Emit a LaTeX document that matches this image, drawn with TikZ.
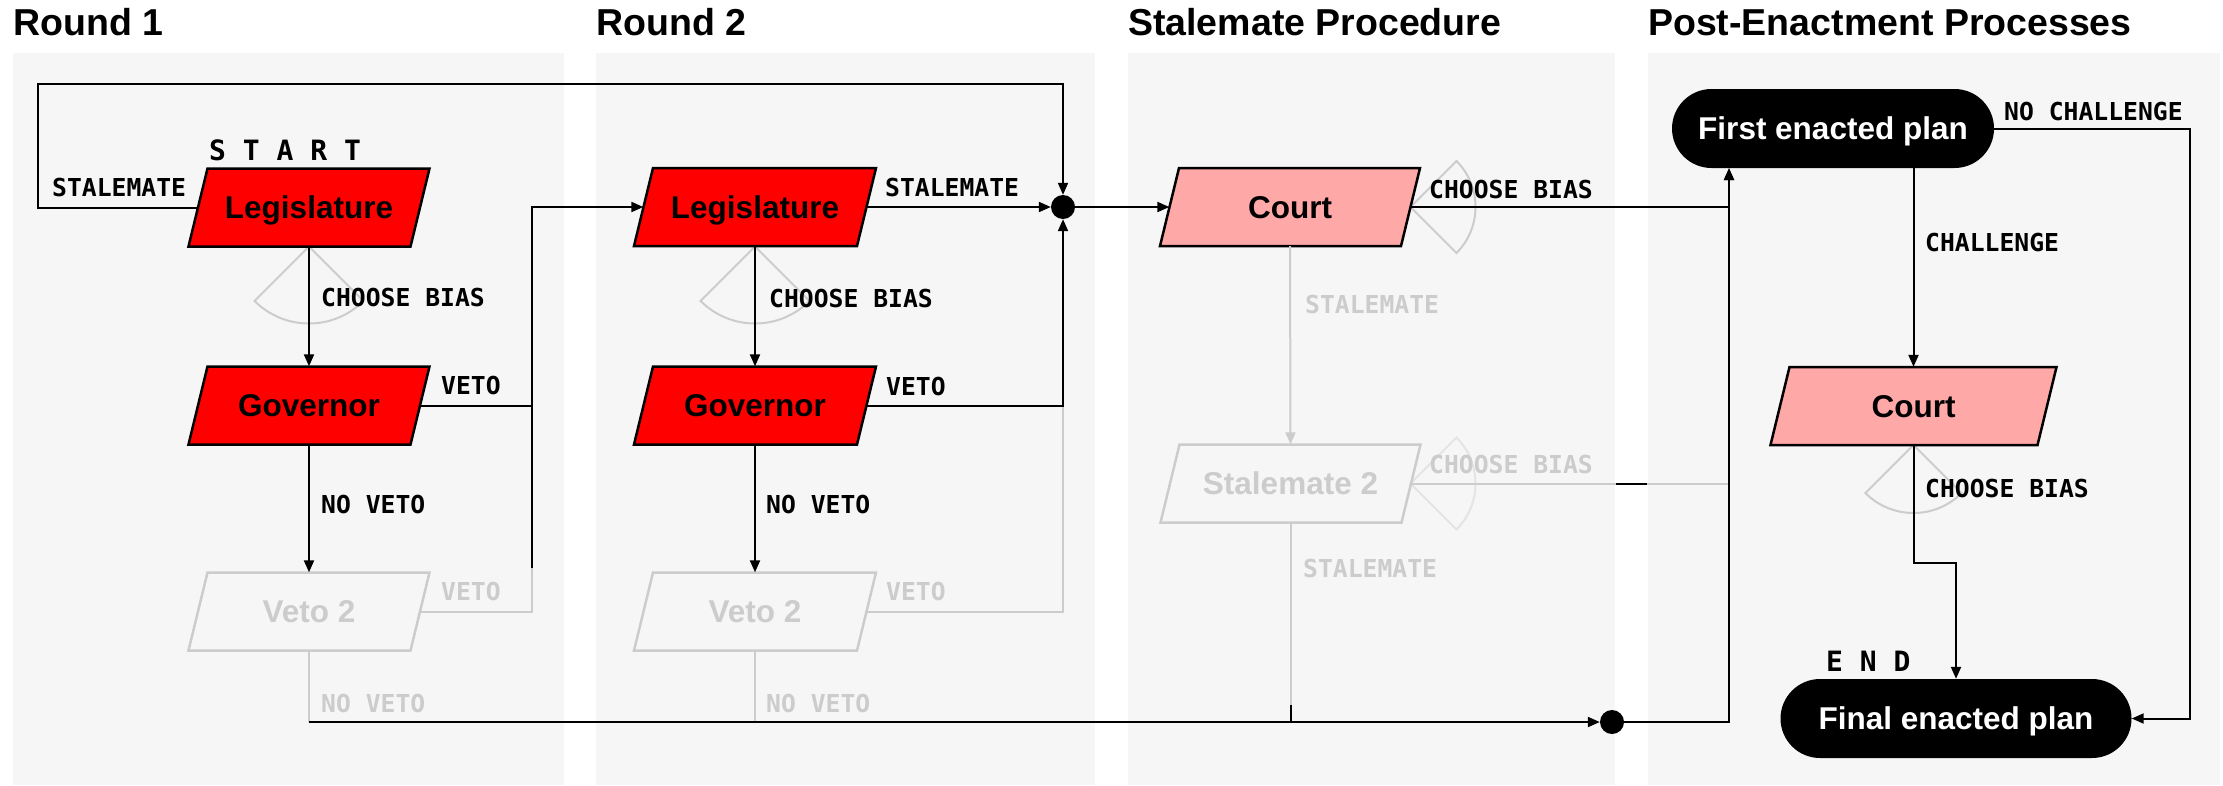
\documentclass[tikz,border=0pt]{standalone}
\usepackage{fontspec}
\setmainfont{Liberation Sans}
\newfontfamily\labelmono{DejaVu Sans Mono}
\usetikzlibrary{arrows.meta,calc}

\definecolor{panelbg}{HTML}{F6F6F6}
\definecolor{faint}{HTML}{CCCCCC}
\definecolor{fainter}{HTML}{E4E4E4}
\definecolor{actorred}{HTML}{FF0000}
\definecolor{courtpink}{HTML}{FFA8A8}

\tikzset{
  tip/.style={-{Triangle[length=12pt,width=10pt]}},
  bline/.style={draw=black, line width=2pt},
  gline/.style={draw=faint, line width=2pt},
  boxtext/.style={font=\fontsize{31.5}{31.5}\selectfont\bfseries, inner sep=0pt,
    text height=22.5pt, text depth=0pt, minimum height=78pt, align=center},
  plan/.style={boxtext, fill=black, text=white, rounded corners=39.5pt, minimum height=79pt},
  lbl/.style={font=\fontsize{24.7}{25}\selectfont\labelmono\bfseries, inner sep=0pt,
    anchor=west, text height=18pt, text depth=0pt},
  bigmark/.style={lbl, font=\fontsize{28}{28}\selectfont\labelmono\bfseries, text height=20pt},
  title/.style={font=\fontsize{37.5}{37.5}\selectfont\bfseries, inner sep=0pt, anchor=base west},
  dot/.style={circle, fill=black, minimum size=24pt, inner sep=0pt},
  sector/.style={draw=faint, line width=2pt},
}

% parallelogram box: name, cx, cy, half width, fill, outline, text colour, text
\newcommand\pgram[8]{%
  \filldraw[fill=#5, draw=#6, line width=2.5pt]
    (#2-#4+9.5,#3-39) -- (#2+#4+9.5,#3-39) -- (#2+#4-9.5,#3+39) -- (#2-#4-9.5,#3+39) -- cycle;
  \node[boxtext, text=#7, minimum width=2*#4] (#1) at (#2,#3) {#8};
}

\begin{document}
\begin{tikzpicture}[x=1pt, y=-1pt]
\useasboundingbox (0,0) rectangle (2223,785);
\fill[white] (0,0) rectangle (2223,785);

% column panels
\fill[panelbg] (13,53) rectangle (564,785);
\fill[panelbg] (596,53) rectangle (1095,785);
\fill[panelbg] (1128,53) rectangle (1615,785);
\fill[panelbg] (1648,53) rectangle (2220,785);

% column titles
\node[title] (t1) at (13,35) {Round 1};
\node[title] (t2) at (596,35) {Round 2};
\node[title] (t3) at (1128,35) {Stalemate Procedure};
\node[title] (t4) at (1648,35) {Post-Enactment Processes};

% bias sectors (drawn first, under the boxes)
\coordinate (s1) at (309,246.5);
\coordinate (s2) at (755,246.5);
\coordinate (s3) at (1410.5,207);
\coordinate (s4) at (1410.5,483.5);
\coordinate (s5) at (1913.5,445);
\draw[sector] (s1) -- ++(45:77) arc[start angle=45, end angle=135, radius=77] -- cycle;
\draw[sector] (s2) -- ++(45:77) arc[start angle=45, end angle=135, radius=77] -- cycle;
\draw[sector] (s3) -- ++(-45:65) arc[start angle=-45, end angle=45, radius=65] -- cycle;
\draw[sector, draw=fainter] (s4) -- ++(-45:65) arc[start angle=-45, end angle=45, radius=65] -- cycle;
\draw[sector] (s5) -- ++(45:68) arc[start angle=45, end angle=135, radius=68] -- cycle;

% boxes
\pgram{leg1}{309}{207.5}{111}{actorred}{black}{black}{Legislature}
\pgram{gov1}{309}{405.5}{111}{actorred}{black}{black}{Governor}
\pgram{veto1}{309}{611.5}{111}{none}{faint}{faint}{Veto 2}
\pgram{leg2}{755}{207}{111.5}{actorred}{black}{black}{Legislature}
\pgram{gov2}{755}{405.5}{111.5}{actorred}{black}{black}{Governor}
\pgram{veto2}{755}{611.5}{111.5}{none}{faint}{faint}{Veto 2}
\pgram{court1}{1290}{207}{120.5}{courtpink}{black}{black}{Court}
\pgram{stal2}{1290.5}{483.5}{120.5}{none}{faint}{faint}{Stalemate 2}
\pgram{court2}{1913.5}{406}{133.5}{courtpink}{black}{black}{Court}

\node[plan, minimum width=322pt] (first) at (1833,128.5) {First enacted plan};
\node[plan, minimum width=351pt] (final) at (1956,718.5) {Final enacted plan};

\node[dot] (dotA) at (1063,207) {};
\node[dot] (dotB) at (1612,722) {};

% helper points
\coordinate (loopTL) at (38,84);
\coordinate (v1low) at (532,568);
\coordinate (riser) at (1729,722);
\coordinate (gapL) at (1616,483.5);
\coordinate (gapR) at (1647,483.5);

% grey (inactive) connectors
\draw[gline] (veto1.east) -| (v1low);
\draw[gline] (veto2.east) -| (gov2.east -| dotA);
\draw[gline] (veto1.south) -- (veto1.south |- dotB);
\draw[gline] (veto2.south) -- (veto2.south |- dotB);
\draw[gline,tip] (court1.south) -- (stal2.north);
\draw[gline] (stal2.east) -- (stal2.east -| riser);
\draw[gline] (stal2.south) -- (stal2.south |- dotB);

% round 1
\draw[bline,tip] (leg1.west) -| (loopTL) -| (dotA);
\draw[bline,tip] (leg1.south) -- (gov1.north);
\draw[bline,tip] (gov1.south) -- (veto1.north);
\draw[bline] (gov1.east) -- (gov1.east -| v1low);
\draw[bline,tip] (v1low) |- (leg2.west);

% round 2
\draw[bline,tip] (leg2.east) -- (dotA);
\draw[bline,tip] (leg2.south) -- (gov2.north);
\draw[bline,tip] (gov2.south) -- (veto2.north);
\draw[bline,tip] (gov2.east) -| (dotA);

% bottom collector
\draw[bline,tip] (veto1.south |- dotB) -- (dotB);
\draw[bline] (stal2.south |- dotB) -- ++(0,-17);
\draw[bline] (gapL) -- (gapR);

% stalemate procedure
\draw[bline,tip] (dotA) -- (court1.west);
\draw[bline,tip] (court1.east) -| (riser |- first.south);
\draw[bline,tip] (dotB) -- (riser) -- (riser |- first.south);

% post-enactment
\draw[bline,tip] (court2.north |- first.south) -- (court2.north);
\draw[bline,tip] (court2.south) -- ++(0,118) -| (final.north);
\draw[bline,tip] (first.east) -- ++(196,0) |- (final.east);

% edge labels
\node[bigmark] (start) at (209,150) {S T A R T};
\node[bigmark] (endm) at (1826,661) {E N D};
\node[lbl] (l1) at (52,187) {STALEMATE};
\node[lbl] (l2) at (321,297) {CHOOSE BIAS};
\node[lbl] (l3) at (441,385) {VETO};
\node[lbl] (l4) at (321,504) {NO VETO};
\node[lbl, text=faint] (l5) at (441,591) {VETO};
\node[lbl, text=faint] (l6) at (321,703) {NO VETO};
\node[lbl] (l7) at (885,187) {STALEMATE};
\node[lbl] (l8) at (769,298) {CHOOSE BIAS};
\node[lbl] (l9) at (886,386) {VETO};
\node[lbl] (l10) at (766,504) {NO VETO};
\node[lbl, text=faint] (l11) at (886,591) {VETO};
\node[lbl, text=faint] (l12) at (766,703) {NO VETO};
\node[lbl] (l13) at (1429,189) {CHOOSE BIAS};
\node[lbl, text=faint] (l14) at (1305,304) {STALEMATE};
\node[lbl, text=faint] (l15) at (1429,464) {CHOOSE BIAS};
\node[lbl, text=faint] (l16) at (1303,568) {STALEMATE};
\node[lbl] (l17) at (2004,111) {NO CHALLENGE};
\node[lbl] (l18) at (1925,242) {CHALLENGE};
\node[lbl] (l19) at (1925,488) {CHOOSE BIAS};
\end{tikzpicture}
\end{document}
